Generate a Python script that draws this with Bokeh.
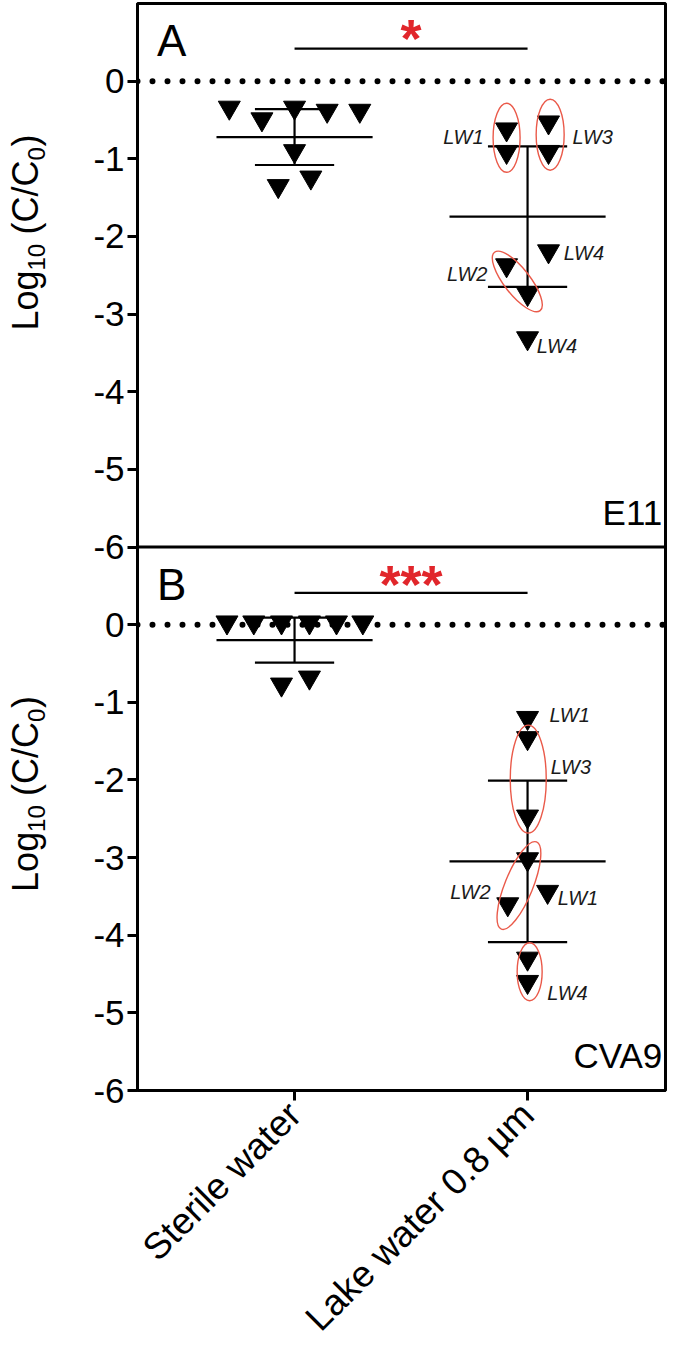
import math
from bokeh.plotting import figure
from bokeh.layouts import row
from bokeh.models import Range1d, FixedTicker, Span
from bokeh.embed import file_html
from bokeh.resources import INLINE
from bokeh.core.properties import value

# ---------------- data ----------------
groups = ["Sterile water", "Lake water 0.8 µm"]
group_pos = [1, 2]
y_ticks = [0, -1, -2, -3, -4, -5, -6]

# Panel A (E11)
a_sterile_dx = [-0.28, -0.14, 0.0, 0.14, 0.28, 0.0, -0.07, 0.07]
a_sterile = [-0.34, -0.49, -0.34, -0.38, -0.38, -0.90, -1.35, -1.24]
a_lake_dx = [-0.09, -0.09, 0.09, 0.09, 0.09, -0.09, 0.0, 0.0]
a_lake = [-0.62, -0.91, -0.53, -0.91, -2.19, -2.37, -2.74, -3.31]
a_mean = [-0.72, -1.745]
a_sd = [0.36, 0.905]

# Panel B (CVA9)
b_sterile_dx = [-0.29, -0.175, -0.056, 0.064, 0.18, 0.293, -0.056, 0.064]
b_sterile = [0.03, 0.03, 0.03, 0.03, 0.03, 0.03, -0.77, -0.68]
b_lake_dx = [0.0, 0.0, 0.0, 0.0, -0.085, 0.086, 0.0, 0.0]
b_lake = [-1.20, -1.46, -2.47, -3.02, -3.60, -3.44, -4.30, -4.60]
b_mean = [-0.20, -3.05]
b_sd = [0.29, 1.04]

panel_letters = ["A", "B"]
virus_names = ["E11", "CVA9"]
sig_labels = ["*", "***"]
sig_bar_y = [0.42, 0.41]
sig_text_y = [0.55, 0.52]

# LW annotations
a_lw_text = ["LW1", "LW3", "LW4", "LW2", "LW4"]
a_lw_x = [1.811, 2.193, 2.155, 1.828, 2.039]
a_lw_y = [-0.72, -0.72, -2.21, -2.49, -3.41]
a_lw_align = ["right", "left", "left", "right", "left"]
b_lw_text = ["LW1", "LW3", "LW2", "LW1", "LW4"]
b_lw_x = [2.094, 2.099, 1.841, 2.13, 2.085]
b_lw_y = [-1.17, -1.83, -3.44, -3.52, -4.74]
b_lw_align = ["left", "left", "right", "left", "left"]

# red ellipses (centre in data, size in px, angle deg)
a_ell_x = [1.910, 2.097, 1.956]
a_ell_y = [-0.73, -0.69, -2.58]
a_ell_w = [27, 28, 74]
a_ell_h = [69, 71, 26]
a_ell_ang = [0, 0, -52]
b_ell_x = [2.003, 1.963, 2.009]
b_ell_y = [-1.99, -3.36, -4.47]
b_ell_w = [36, 94, 25]
b_ell_h = [108, 28, 58]
b_ell_ang = [0, 68, 0]

# y-axis title pieces: (text, font px, baseline shift px, offset along axis px)
title_pieces = [("Log", 36, 0, 0), ("10", 24, 6, 60), ("(C/C", 36, 0, 96),
                ("0", 24, 6, 170), (")", 36, 0, 184)]
title_len = 196
title_center = [-1.95, -2.18]

# ---------------- style ----------------
FONT = "Liberation Sans"
RED = "#e1262b"
ELL = "#ea5a4a"
MEAN_HALF = 0.335
SD_HALF = 0.17
LW = 2.2
FRAME_H = 1087
TOP = 3

A_RANGE = (-13, 1)
B_RANGE = (-6, 8)
offset_b = B_RANGE[1] - A_RANGE[1]
PXU = FRAME_H / (A_RANGE[1] - A_RANGE[0])

yr_a = Range1d(*A_RANGE)
yr_b = Range1d(*B_RANGE)

p = figure(frame_width=528, frame_height=FRAME_H,
           x_range=Range1d(0.326, 2.592), y_range=yr_a,
           output_backend="svg", toolbar_location=None, title=None,
           min_border_left=77, min_border_right=4, min_border_top=TOP,
           min_border_bottom=0)
p.extra_y_ranges = {"b": yr_b}
p.grid.visible = False
p.outline_line_color = "black"
p.outline_line_width = 3

# y axis
yax = p.yaxis[0]
b_ticks = [t - offset_b for t in y_ticks if t - offset_b < y_ticks[-1]]
yax.ticker = FixedTicker(ticks=list(y_ticks) + b_ticks)
ov = {t: str(t) for t in y_ticks}
ov.update({t - offset_b: str(t) for t in y_ticks if t - offset_b < y_ticks[-1]})
yax.major_label_overrides = ov
yax.axis_line_width = 3
yax.major_tick_line_width = 3
yax.major_tick_out = 10
yax.major_tick_in = 0
yax.minor_tick_line_color = None
yax.major_label_text_font = FONT
yax.major_label_text_font_size = "35px"
yax.major_label_text_color = "black"
yax.major_label_standoff = 3

# x axis
xax = p.xaxis[0]
xax.ticker = FixedTicker(ticks=group_pos)
xax.major_label_overrides = {g: n for g, n in zip(group_pos, groups)}
xax.major_label_orientation = math.pi / 4
xax.axis_line_width = 3
xax.major_tick_line_width = 3
xax.major_tick_out = 10
xax.major_tick_in = 0
xax.minor_tick_line_color = None
xax.major_label_text_font = FONT
xax.major_label_text_font_size = "37px"
xax.major_label_text_color = "black"
xax.major_label_standoff = 8

# junction between panels
p.add_layout(Span(location=1, dimension="width", line_color="black",
                  line_width=3, y_range_name="b"))

# left strip holding the y-axis title
left = figure(frame_width=60, frame_height=FRAME_H, x_range=Range1d(0, 60),
              y_range=yr_a, output_backend="svg", toolbar_location=None,
              title=None, x_axis_location=None, y_axis_location=None,
              min_border_left=0, min_border_right=0, min_border_top=TOP,
              min_border_bottom=0)
left.extra_y_ranges = {"b": yr_b}
left.grid.visible = False
left.outline_line_color = None

BASE_X = 38  # baseline position of the rotated title


def draw_panel(yr, s_dx, s_vals, l_dx, l_vals, means, sds, letter, virus,
               sig, sbar, stext, lw_t, lw_x, lw_y, lw_al,
               ex, ey, ew, eh, ea, lab_center):
    p.add_layout(Span(location=0, dimension="width", line_color="black",
                      line_width=6, line_dash="0 15", line_cap="round",
                      y_range_name=yr))
    xs0, xs1, ys0, ys1 = [], [], [], []
    for g, m, s in zip(group_pos, means, sds):
        xs0 += [g - MEAN_HALF, g - SD_HALF, g - SD_HALF, g]
        xs1 += [g + MEAN_HALF, g + SD_HALF, g + SD_HALF, g]
        ys0 += [m, m + s, m - s, m - s]
        ys1 += [m, m + s, m - s, m + s]
    p.segment(xs0, ys0, xs1, ys1, line_color="black", line_width=LW,
              y_range_name=yr)
    px = [group_pos[0] + d for d in s_dx] + [group_pos[1] + d for d in l_dx]
    py = list(s_vals) + list(l_vals)
    p.scatter(px, py, marker="inverted_triangle", size=22, color="black",
              y_range_name=yr)
    p.segment([group_pos[0]], [sbar], [group_pos[1]], [sbar],
              line_color="black", line_width=LW, y_range_name=yr)
    p.text([sum(group_pos) / 2], [stext], text=[sig], text_color=RED,
           text_font=value(FONT), text_font_size="54px",
           text_font_style="bold", text_align="center",
           text_baseline="middle", y_range_name=yr)
    p.text(lw_x, lw_y, text=lw_t, text_align=lw_al, text_baseline="middle",
           text_font=value(FONT), text_font_size="20px",
           text_font_style="italic", text_color="#1a1a1a", y_range_name=yr)
    p.ellipse(ex, ey, width=ew, height=eh, angle=ea, angle_units="deg",
              width_units="screen", height_units="screen",
              fill_color=None, line_color=ELL, line_width=1.4,
              y_range_name=yr)
    p.text([0.41], [0.52], text=[letter], text_font=value(FONT),
           text_font_size="44px", text_color="black", text_align="left",
           text_baseline="middle", y_range_name=yr)
    p.text([2.578], [-5.55], text=[virus], text_font=value(FONT),
           text_font_size="35px", text_color="black", text_align="right",
           text_baseline="middle", y_range_name=yr)
    # rotated y-axis title
    start = lab_center - (title_len / 2) / PXU
    for txt, fs, dx, off in title_pieces:
        left.text([BASE_X + dx - 0.35 * fs], [start + off / PXU], text=[txt],
                  angle=math.pi / 2, text_font=value(FONT),
                  text_font_size=f"{fs}px", text_color="black",
                  text_align="left", text_baseline="middle", y_range_name=yr)


draw_panel("default", a_sterile_dx, a_sterile, a_lake_dx, a_lake, a_mean, a_sd,
           panel_letters[0], virus_names[0], sig_labels[0], sig_bar_y[0],
           sig_text_y[0], a_lw_text, a_lw_x, a_lw_y, a_lw_align,
           a_ell_x, a_ell_y, a_ell_w, a_ell_h, a_ell_ang, title_center[0])
draw_panel("b", b_sterile_dx, b_sterile, b_lake_dx, b_lake, b_mean, b_sd,
           panel_letters[1], virus_names[1], sig_labels[1], sig_bar_y[1],
           sig_text_y[1], b_lw_text, b_lw_x, b_lw_y, b_lw_align,
           b_ell_x, b_ell_y, b_ell_w, b_ell_h, b_ell_ang, title_center[1])

layout = row(left, p)
open("out.html", "w").write(file_html(layout, INLINE))
